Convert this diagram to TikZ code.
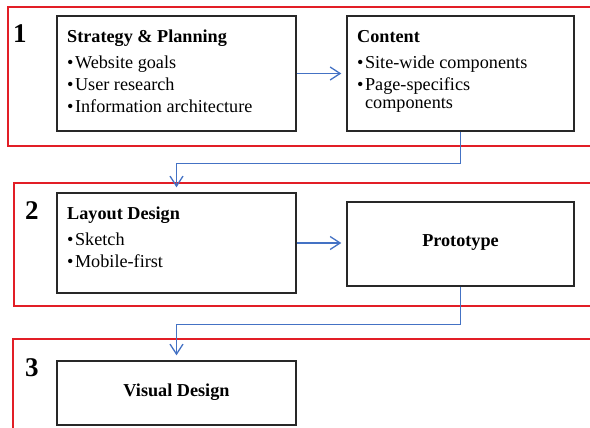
\documentclass[tikz,border=0pt]{standalone}
\usepackage{fontspec}
\setmainfont{Liberation Serif}
\usetikzlibrary{arrows.meta}
\definecolor{phasered}{RGB}{226,30,38}
\definecolor{flowblue}{RGB}{68,114,196}
\definecolor{boxgray}{RGB}{40,40,40}
\newcommand{\bul}{\textbullet\hspace{1.5pt}}
\newcommand{\bulgap}{\hphantom{\textbullet\hspace{1.5pt}}}
\begin{document}
\begin{tikzpicture}[x=1pt,y=-1pt,
  phase/.style={draw=phasered,line width=1.1pt},
  stepbox/.style={draw=boxgray,line width=1.4pt,rectangle,inner sep=0pt},
  boxtext/.style={anchor=north west,align=left,inner sep=0pt,font=\fontsize{18.2}{18.5}\selectfont},
  centertext/.style={inner sep=0pt,font=\fontsize{18.2}{18.5}\selectfont\bfseries},
  phasenum/.style={anchor=base west,inner sep=0pt,font=\fontsize{27}{30}\selectfont\bfseries},
  flow/.style={draw=flowblue,line width=1.4pt,-{Straight Barb[length=10pt,width=13pt,line width=1.3pt]},shorten >=5pt}]
\useasboundingbox (0,0) rectangle (590,428);
\begin{scope}
\clip (0,0) rectangle (590,428);
\draw[phase] (8,7) rectangle (620,146);
\draw[phase] (14,183) rectangle (620,306);
\draw[phase] (13,339) rectangle (620,460);
\end{scope}
% boxes
\node[stepbox,minimum width=239pt,minimum height=115pt] (strat) at (176.5,73.5) {};
\node[stepbox,minimum width=227pt,minimum height=115pt] (content) at (460.5,73.5) {};
\node[stepbox,minimum width=239pt,minimum height=100pt] (layout) at (176.5,243) {};
\node[stepbox,minimum width=227pt,minimum height=84pt] (proto) at (460.5,244) {};
\node[stepbox,minimum width=239pt,minimum height=64pt] (visual) at (176.5,393) {};
% numbers
\node[phasenum] (n1) at (13,43) {1};
\node[phasenum] (n2) at (25,219) {2};
\node[phasenum] (n3) at (25,376) {3};
% texts
\node[boxtext] (strattext) at (67,30) {\textbf{Strategy \& Planning}\\[7.5pt]\bul Website goals\\[3.5pt]\bul User research\\[3.5pt]\bul Information architecture};
\node[boxtext] (contenttext) at (357,30) {\textbf{Content}\\[7.5pt]\bul Site-wide components\\[3.5pt]\bul Page-specifics\\\bulgap components};
\node[boxtext] (layouttext) at (67,207) {\textbf{Layout Design}\\[7.5pt]\bul Sketch\\[3.5pt]\bul Mobile-first};
\node[centertext] (prototext) at (460.5,243) {Prototype};
\node[centertext] (visualtext) at (176.5,392) {Visual Design};
% connectors
\draw[flow] (strat.east) -- (content.west);
\draw[flow] (layout.east) -- (proto.west |- layout.east);
\draw[flow] (content.south) -- ++(0,32) -| (layout.north);
\draw[flow] (proto.south) -- ++(0,38) -| (visual.north);
\end{tikzpicture}
\end{document}
